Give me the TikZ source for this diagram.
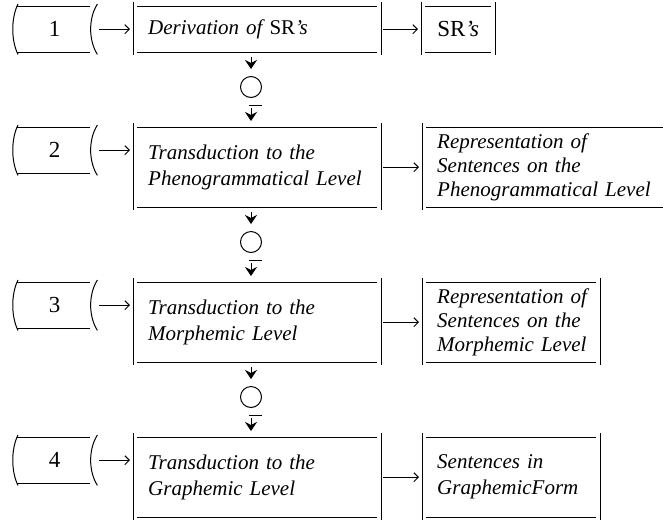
\documentclass[tikz,border=0pt]{standalone}
\usepackage{fontspec}
\setmainfont{Liberation Serif}[WordSpace=2]
\usetikzlibrary{arrows.meta,calc}
\newcommand\ind{\hspace*{15pt}}
\begin{document}
\begin{tikzpicture}[x=1pt,y=-1pt,
  lw/.style={line width=1pt},
  harr/.style={lw,-{Straight Barb[length=4.5pt,width=9pt]},shorten <=2pt,shorten >=3pt},
  varr/.style={lw,-{Stealth[length=9pt,width=12pt,inset=3pt]}},
  txt/.style={font=\fontsize{21}{26}\selectfont\itshape, align=left, inner xsep=0pt, inner ysep=0pt, anchor=north west},
  restxt/.style={txt, font=\fontsize{21}{24}\selectfont\itshape},
  mainbox/.style={txt, text width=248pt},
  tape/.style={font=\fontsize{23}{24}\selectfont, minimum width=85pt, minimum height=46pt, inner sep=0pt, anchor=north west},
  ring/.style={circle, lw, draw, minimum size=21pt, inner sep=0pt}]
\useasboundingbox (0,0) rectangle (663,520);

\newcommand\frm[1]{%
 \draw[lw] ($(#1.north west)+(0pt,4pt)$) -- ($(#1.south west)+(0pt,-3pt)$);
 \draw[lw] ($(#1.north east)+(0pt,4pt)$) -- ($(#1.south east)+(0pt,-3pt)$);
 \draw[lw] ($(#1.north west)+(4pt,0pt)$) -- ($(#1.north east)+(-4pt,0pt)$);
 \draw[lw] ($(#1.south west)+(4pt,0pt)$) -- ($(#1.south east)+(-4pt,0pt)$);}
\newcommand\frmopen[1]{%
 \draw[lw] ($(#1.north west)+(0pt,4pt)$) -- ($(#1.south west)+(0pt,-3pt)$);
 \draw[lw] ($(#1.north west)+(4pt,0pt)$) -- (#1.north east);
 \draw[lw] ($(#1.south west)+(4pt,0pt)$) -- (#1.south east);}
\newcommand\tp[1]{%
 \draw[lw] ($(#1.north west)+(6pt,2pt)$) .. controls ($(#1.north west)+(-1pt,-12pt)$) and ($(#1.south west)+(-1pt,12pt)$) .. ($(#1.south west)+(6pt,-2pt)$);
 \draw[lw] ($(#1.north east)+(0pt,2pt)$) .. controls ($(#1.north east)+(-9pt,-12pt)$) and ($(#1.south east)+(-9pt,12pt)$) .. ($(#1.south east)+(0pt,-2pt)$);
 \draw[lw] ($(#1.north west)+(5pt,0pt)$) -- ($(#1.north east)+(-7pt,0pt)$);
 \draw[lw] ($(#1.south west)+(5pt,0pt)$) -- ($(#1.south east)+(-7pt,0pt)$);}

% tapes
\node[tape] (t1) at (12,6) {1};
\node[tape] (t2) at (12,127) {2};
\node[tape] (t3) at (12,282) {3};
\node[tape] (t4) at (12,437) {4};
\tp{t1}\tp{t2}\tp{t3}\tp{t4}

% main boxes
\node[mainbox, minimum height=46pt] (b1) at (133,6) {\ind Derivation of {\upshape SR}'s};
\node[mainbox, minimum height=80pt] (b2) at (133,127) {\ind Transduction to the\\\ind Phenogrammatical Level};
\node[mainbox, minimum height=80pt] (b3) at (133,282) {\ind Transduction to the\\\ind Morphemic Level};
\node[mainbox, minimum height=80pt] (b4) at (133,437) {\ind Transduction to the\\\ind Graphemic Level};
\frm{b1}\frm{b2}\frm{b3}\frm{b4}

% result boxes
\node[txt, minimum width=74pt, minimum height=46pt, align=center, font=\fontsize{23}{24}\selectfont] (r1) at (421,6) {SR\textit{'s}};
\node[restxt, text width=241pt, minimum height=80pt] (r2) at (422,127) {\ind Representation of\\\ind Sentences on the\\\ind Phenogrammatical Level};
\node[restxt, text width=178pt, minimum height=80pt] (r3) at (422,282) {\ind Representation of\\\ind Sentences on the\\\ind Morphemic Level};
\node[txt, text width=178pt, minimum height=80pt] (r4) at (422,437) {\ind Sentences in\\\ind GraphemicForm};
\frm{r1}\frmopen{r2}\frm{r3}\frm{r4}

% horizontal arrows
\foreach \i in {1,2,3,4}{
  \draw[harr] (t\i.east) -- (t\i.east -| b\i.west);
  \draw[harr] (b\i.east) -- (b\i.east -| r\i.west);
}

% vertical connectors
\node[ring] (c1) at (251,87) {};
\node[ring] (c2) at (251,242) {};
\node[ring] (c3) at (251,397) {};
\foreach \i/\j in {1/2,2/3,3/4}{
  \draw[varr, shorten <=5pt, shorten >=7pt] (c\i |- b\i.south) -- (c\i.north);
  \draw[lw] ($(c\i.south)+(-2pt,-7pt)$) -- ++(13pt,0pt);
  \draw[varr, shorten <=10pt, shorten >=6pt] (c\i.south) -- (c\i |- b\j.north);
}
\end{tikzpicture}
\end{document}
